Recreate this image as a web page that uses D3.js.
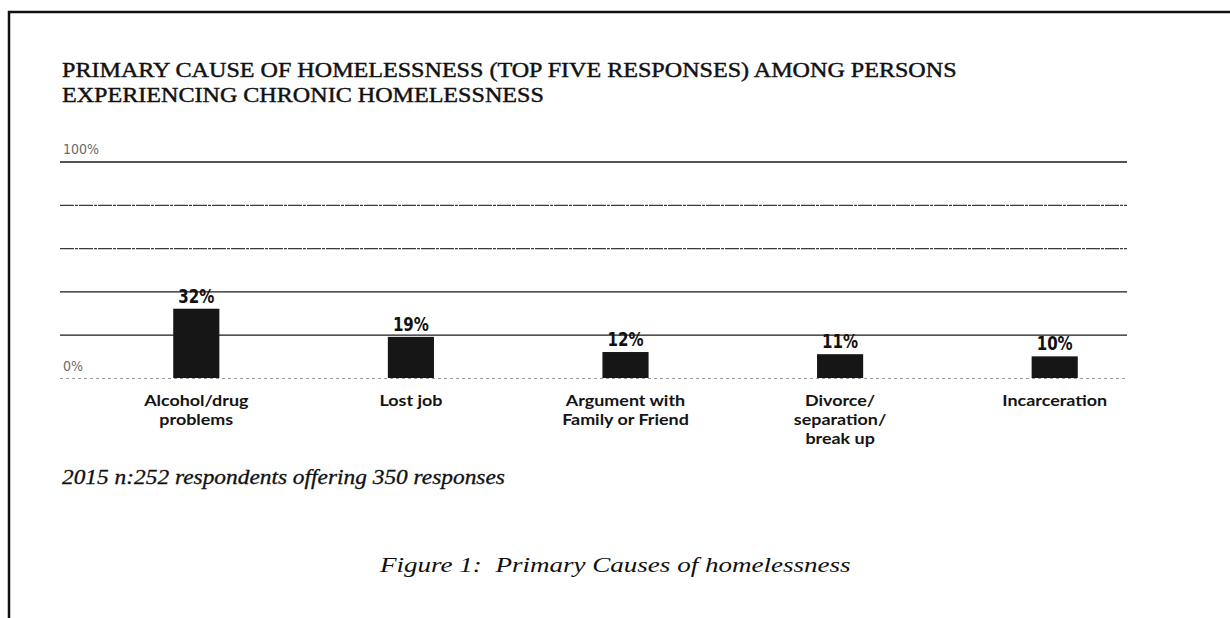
<!DOCTYPE html>
<html>
<head>
<meta charset="utf-8">
<script src="https://cdn.jsdelivr.net/npm/d3@7"></script>
<style>
  html, body { margin: 0; padding: 0; background: #fff; }
  svg { display: block; }
</style>
</head>
<body>
<svg id="chart" width="1230" height="618"></svg>
<script>
// ---- data ----
const categories = [
  "Alcohol/drug\nproblems",
  "Lost job",
  "Argument with\nFamily or Friend",
  "Divorce/\nseparation/\nbreak up",
  "Incarceration"
];
const values = [32, 19, 12, 11, 10];
const yTicks = [0, 20, 40, 60, 80, 100];
const yTickLabels = { 0: "0%", 100: "100%" };
const titleLines = [
  "PRIMARY CAUSE OF HOMELESSNESS (TOP FIVE RESPONSES) AMONG PERSONS",
  "EXPERIENCING CHRONIC HOMELESSNESS"
];
const noteText = "2015 n:252 respondents offering 350 responses";
const captionText = "Figure 1:  Primary Causes of homelessness";

// ---- setup ----
const svg = d3.select("#chart");
const plot = { left: 60, right: 1127, top: 161.5, bottom: 378 };

// squeeze/stretch a text element horizontally around its anchor point
function fitWidth(sel, target, ax) {
  const w = sel.node().getComputedTextLength();
  const s = target / w;
  sel.attr("transform", `translate(${ax},0) scale(${s},1) translate(${-ax},0)`);
  return s;
}
function hscale(cx, s) {
  return `translate(${cx},0) scale(${s},1) translate(${-cx},0)`;
}

// frame (top and left rules of the figure box)
svg.append("path")
  .attr("d", "M9,618 V12 H1230")
  .attr("fill", "none")
  .attr("stroke", "#111")
  .attr("stroke-width", 2.5);

// title
const titleG = svg.append("g")
  .attr("font-family", "'Liberation Serif', 'Times New Roman', serif")
  .attr("font-size", 22)
  .attr("fill", "#111")
  .attr("stroke", "#111")
  .attr("stroke-width", 0.45);
const t1 = titleG.append("text").attr("x", 62).attr("y", 77).text(titleLines[0]);
const sx = fitWidth(t1, 895, 62);
titleG.append("text").attr("x", 62).attr("y", 102).text(titleLines[1])
  .attr("transform", hscale(62, sx));

// scales
const x = d3.scaleBand()
  .domain(categories)
  .range([89, 1162])
  .paddingInner(0.785)
  .paddingOuter(0.3925);
const y = d3.scaleLinear().domain([0, 100]).range([plot.bottom, plot.top]);
const cxOf = c => x(c) + x.bandwidth() / 2;

// gridlines from the y axis
const grid = svg.append("g")
  .attr("transform", `translate(${plot.left},0)`)
  .call(d3.axisLeft(y)
    .tickValues(yTicks)
    .tickSize(-(plot.right - plot.left))
    .tickFormat(""));
grid.select(".domain").remove();
grid.selectAll(".tick line")
  .attr("stroke", d => d === 0 ? "#9a9a9a" : (d === 60 || d === 80 ? "#3a3a3a" : "#1a1a1a"))
  .attr("stroke-width", d => d === 0 ? 1 : (d === 100 ? 1.6 : 1.3))
  .attr("stroke-dasharray", d => d === 0 ? "3,3" : (d === 60 || d === 80 ? "14,1,3,1" : null));
grid.selectAll(".tick text").remove();
grid.selectAll(".tick")
  .filter(d => yTickLabels[d] !== undefined)
  .append("text")
  .attr("x", 3)
  .attr("y", -8)
  .attr("fill", "#6a6a6a")
  .attr("font-family", "'Liberation Sans Narrow', 'DejaVu Sans Condensed', sans-serif")
  .attr("font-size", 14)
  .attr("text-anchor", "start")
  .text(d => yTickLabels[d]);

// bars
const data = categories.map((c, i) => ({ c, v: values[i] }));
svg.append("g").selectAll("rect")
  .data(data)
  .join("rect")
  .attr("x", d => x(d.c))
  .attr("y", d => y(d.v))
  .attr("width", x.bandwidth())
  .attr("height", d => y(0) - y(d.v))
  .attr("fill", "#161616");

// value labels (narrowed)
svg.append("g").selectAll("text")
  .data(data)
  .join("text")
  .attr("x", d => cxOf(d.c))
  .attr("y", d => y(d.v) - 6)
  .attr("text-anchor", "middle")
  .attr("font-family", "'Liberation Sans Narrow', 'DejaVu Sans Condensed', sans-serif")
  .attr("font-weight", 700)
  .attr("font-size", 19)
  .attr("fill", "#111")
  .attr("transform", d => hscale(cxOf(d.c), 0.88))
  .text(d => d.v + "%");

// category labels, one text per line
const catG = svg.append("g")
  .attr("font-family", "Lato, 'Open Sans', sans-serif")
  .attr("font-weight", 700)
  .attr("font-size", 16)
  .attr("fill", "#141414")
  .attr("text-anchor", "middle");
const catLines = categories.flatMap(c =>
  c.split("\n").map((line, i) => ({ c, line, i })));
catG.selectAll("text")
  .data(catLines)
  .join("text")
  .attr("x", d => cxOf(d.c))
  .attr("y", d => 406 + d.i * 19)
  .attr("transform", d => hscale(cxOf(d.c), 1.12))
  .text(d => d.line);

// sample note
const note = svg.append("text")
  .attr("x", 62)
  .attr("y", 484)
  .attr("font-family", "'Liberation Serif', 'Times New Roman', serif")
  .attr("font-style", "italic")
  .attr("font-size", 20)
  .attr("fill", "#111")
  .attr("stroke", "#111")
  .attr("stroke-width", 0.3)
  .text(noteText);
fitWidth(note, 443, 62);

// figure caption
const cap = svg.append("text")
  .attr("x", 380)
  .attr("y", 572)
  .attr("font-family", "'Liberation Serif', 'Times New Roman', serif")
  .attr("font-style", "italic")
  .attr("font-size", 22)
  .attr("fill", "#111")
  .style("white-space", "pre")
  .text(captionText);
fitWidth(cap, 471, 380);
</script>
</body>
</html>
